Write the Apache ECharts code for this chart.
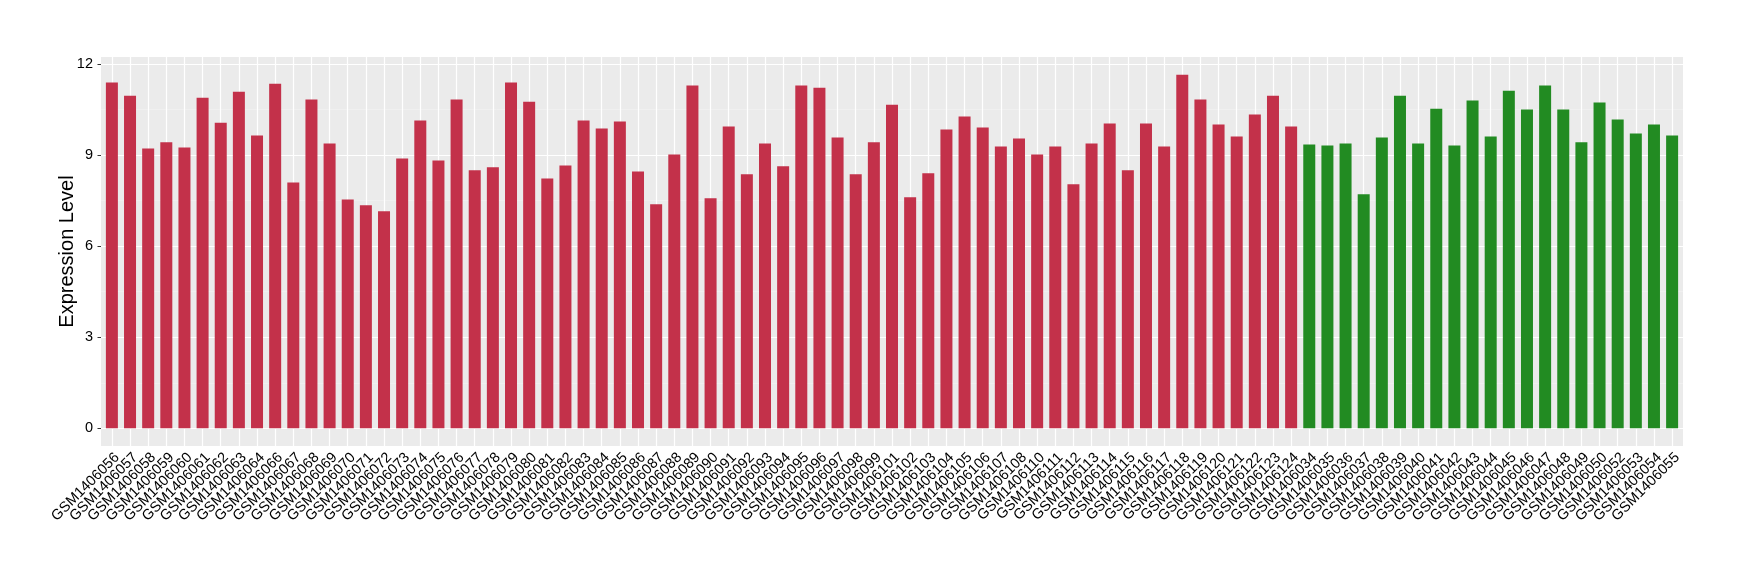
<!DOCTYPE html>
<html>
<head>
<meta charset="utf-8">
<script src="https://cdn.jsdelivr.net/npm/echarts@6/dist/echarts.min.js"></script>
<style>html,body{margin:0;padding:0;background:#fff}#c{width:1740px;height:580px}</style>
</head>
<body>
<div id="c"></div>
<script>
const redSamples = ["GSM1406056","GSM1406057","GSM1406058","GSM1406059","GSM1406060","GSM1406061","GSM1406062","GSM1406063","GSM1406064","GSM1406066","GSM1406067","GSM1406068","GSM1406069","GSM1406070","GSM1406071","GSM1406072","GSM1406073","GSM1406074","GSM1406075","GSM1406076","GSM1406077","GSM1406078","GSM1406079","GSM1406080","GSM1406081","GSM1406082","GSM1406083","GSM1406084","GSM1406085","GSM1406086","GSM1406087","GSM1406088","GSM1406089","GSM1406090","GSM1406091","GSM1406092","GSM1406093","GSM1406094","GSM1406095","GSM1406096","GSM1406097","GSM1406098","GSM1406099","GSM1406101","GSM1406102","GSM1406103","GSM1406104","GSM1406105","GSM1406106","GSM1406107","GSM1406108","GSM1406110","GSM1406111","GSM1406112","GSM1406113","GSM1406114","GSM1406115","GSM1406116","GSM1406117","GSM1406118","GSM1406119","GSM1406120","GSM1406121","GSM1406122","GSM1406123","GSM1406124"];
const redValues = [11.39,10.96,9.22,9.42,9.25,10.89,10.07,11.09,9.65,11.35,8.10,10.83,9.38,7.54,7.35,7.15,8.89,10.14,8.82,10.83,8.50,8.60,11.39,10.76,8.23,8.66,10.14,9.88,10.11,8.46,7.38,9.02,11.29,7.58,9.94,8.37,9.38,8.63,11.29,11.22,9.58,8.37,9.42,10.66,7.61,8.40,9.84,10.27,9.91,9.28,9.55,9.02,9.28,8.04,9.38,10.04,8.50,10.04,9.28,11.65,10.83,10.01,9.61,10.34,10.96,9.94];
const greenSamples = ["GSM1406034","GSM1406035","GSM1406036","GSM1406037","GSM1406038","GSM1406039","GSM1406040","GSM1406041","GSM1406042","GSM1406043","GSM1406044","GSM1406045","GSM1406046","GSM1406047","GSM1406048","GSM1406049","GSM1406050","GSM1406052","GSM1406053","GSM1406054","GSM1406055"];
const greenValues = [9.35,9.32,9.38,7.71,9.58,10.96,9.38,10.53,9.32,10.80,9.61,11.12,10.50,11.29,10.50,9.42,10.73,10.17,9.71,10.01,9.65];
const yTicks = [0,3,6,9,12];
const yMinorTicks = [1.5,4.5,7.5,10.5];
const yTitle = "Expression Level";

const categories = redSamples.concat(greenSamples);
const allValues = redValues.concat(greenValues);
const pad = 0.05 * Math.max(...allValues);
const yMin = -pad, yMax = Math.max(...allValues) + pad;
const FONT = "'Liberation Sans', Arial, Helvetica, sans-serif";

// panel (ggplot style): discrete axis expanded by 0.6 units on each side
const PANEL = {left: 101, right: 57, top: 57, bottom: 134};
const panelW = 1740 - PANEL.left - PANEL.right;
const band = panelW / (categories.length + 0.2);
const inset = 0.1 * band;

const redData = categories.map((c, i) => i < redValues.length ? redValues[i] : '-');
const greenData = categories.map((c, i) => i >= redValues.length ? greenValues[i - redValues.length] : '-');

const chart = echarts.init(document.getElementById('c'), null, {renderer: 'canvas'});
chart.setOption({
  animation: false,
  backgroundColor: '#ffffff',
  grid: [
    {left: PANEL.left, right: PANEL.right, top: PANEL.top, bottom: PANEL.bottom,
     show: true, backgroundColor: '#EBEBEB', borderWidth: 0, containLabel: false, outerBoundsMode: 'none'},
    {left: PANEL.left + inset, right: PANEL.right + inset, top: PANEL.top, bottom: PANEL.bottom,
     show: false, containLabel: false, outerBoundsMode: 'none'}
  ],
  xAxis: [
    {gridIndex: 0, type: 'value', min: 0, max: 1, show: false},
    {
      gridIndex: 1, type: 'category', data: categories, boundaryGap: true,
      axisLine: {show: false},
      splitLine: {show: false},
      axisTick: {show: true, alignWithLabel: true, interval: 0, length: 3, lineStyle: {color: '#333333', width: 1}},
      axisLabel: {interval: 0, rotate: 45, margin: 4, verticalAlign: 'top', fontSize: 14.5, color: '#000', fontFamily: FONT}
    }
  ],
  yAxis: [
    {
      gridIndex: 0, type: 'value', min: yMin, max: yMax,
      axisLine: {show: false},
      splitLine: {show: false},
      axisTick: {show: true, customValues: yTicks, length: 3.5, lineStyle: {color: '#333333', width: 1}},
      axisLabel: {customValues: yTicks, margin: 8, fontSize: 14.5, color: '#000', fontFamily: FONT},
      name: yTitle, nameLocation: 'middle', nameGap: 23.5, nameMoveOverlap: false,
      nameTextStyle: {fontSize: 20, color: '#000', fontFamily: FONT}
    },
    {gridIndex: 1, type: 'value', min: yMin, max: yMax, show: false}
  ],
  series: [
    {
      type: 'line', data: [], xAxisIndex: 0, yAxisIndex: 0, z: 1, silent: true,
      markLine: {
        z: 1, silent: true, symbol: 'none', label: {show: false}, animation: false,
        data: yMinorTicks.map(v => ({yAxis: v, lineStyle: {color: '#F4F4F4', width: 0.6, type: 'solid'}}))
          .concat(yTicks.map(v => ({yAxis: v, lineStyle: {color: '#FFFFFF', width: 1.2, type: 'solid'}})))
      }
    },
    {
      type: 'line', data: [], xAxisIndex: 1, yAxisIndex: 1, z: 1, silent: true,
      markLine: {
        z: 1, silent: true, symbol: 'none', label: {show: false}, animation: false,
        data: categories.map(c => ({xAxis: c, lineStyle: {color: '#FFFFFF', width: 1.2, type: 'solid'}}))
      }
    },
    {
      type: 'bar', data: redData, xAxisIndex: 1, yAxisIndex: 1, z: 3, barWidth: 12, barGap: '-100%',
      itemStyle: {color: '#C3314A'}
    },
    {
      type: 'bar', data: greenData, xAxisIndex: 1, yAxisIndex: 1, z: 3, barWidth: 12, barGap: '-100%',
      itemStyle: {color: '#228B22'}
    }
  ]
});
</script>
</body>
</html>
